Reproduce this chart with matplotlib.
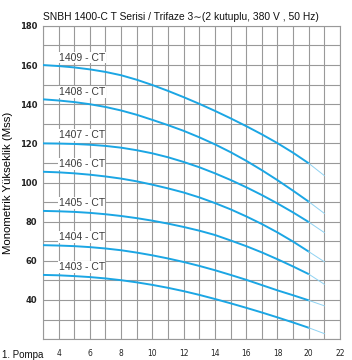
import matplotlib
matplotlib.use("Agg")
import matplotlib.pyplot as plt

# --- data ---
debi = [3, 4, 5, 6, 7, 8, 9, 10, 11, 12, 13, 14, 15, 16, 17, 18, 19, 20, 21]

h_1409 = [160, 159.5, 158.8, 157.8, 156.5, 154.8, 152.5, 149.8, 146.8, 143.6, 140.2, 136.6, 132.8, 128.8, 124.6, 120.1, 115.2, 109.8, 103.5]
h_1408 = [142.5, 141.9, 141.1, 140.0, 138.6, 136.8, 134.6, 132.0, 129.3, 126.4, 123.1, 119.5, 115.5, 111.1, 106.3, 101.2, 95.8, 90.2, 84.2]
h_1407 = [120, 119.9, 119.7, 119.3, 118.7, 117.8, 116.5, 114.9, 112.9, 110.5, 107.8, 104.7, 101.3, 97.6, 93.6, 89.3, 84.7, 79.8, 74.4]
h_1406 = [105.5, 105.2, 104.7, 104.0, 103.1, 102.0, 100.6, 98.9, 97.0, 94.9, 92.4, 89.5, 86.3, 82.7, 78.8, 74.5, 69.8, 64.7, 59.5]
h_1405 = [85.5, 85.3, 85.0, 84.5, 83.8, 82.9, 81.8, 80.5, 79.0, 77.3, 75.4, 73.2, 70.4, 67.5, 64.3, 60.8, 57.1, 53.2, 48.0]
h_1404 = [68, 67.8, 67.5, 67.0, 66.3, 65.4, 64.2, 62.8, 61.2, 59.4, 57.4, 55.2, 52.8, 50.3, 47.6, 44.9, 42.4, 39.8, 37.0]
h_1403 = [52.8, 52.6, 52.2, 51.7, 51.0, 50.1, 49.0, 47.7, 46.2, 44.5, 42.6, 40.5, 38.3, 36.0, 33.6, 31.1, 28.5, 25.8, 22.8]

pompalar = ["1409 - CT", "1408 - CT", "1407 - CT", "1406 - CT", "1405 - CT", "1404 - CT", "1403 - CT"]
egriler = [h_1409, h_1408, h_1407, h_1406, h_1405, h_1404, h_1403]

x_ticks = [4, 6, 8, 10, 12, 14, 16, 18, 20, 22]
y_ticks = [40, 60, 80, 100, 120, 140, 160, 180]

MAVI = "#1ba6e4"
ACIK_MAVI = "#8fd2f2"
GRI = "#999999"
YAZI = ["Liberation Sans", "DejaVu Sans"]

fig = plt.figure(figsize=(3.52, 3.6), dpi=100, facecolor="white")
ax = fig.add_axes([0.122, 0.058, 0.844, 0.870])

ax.set_xlim(3, 22)
ax.set_ylim(20, 180)

# grid every 1 on x, every 10 on y
for xv in range(3, 23):
    ax.axvline(xv, color=GRI, lw=0.8, zorder=1)
for yv in range(20, 181, 10):
    ax.axhline(yv, color=GRI, lw=0.8, zorder=1)

# curves: solid to 20, thin lighter tail 20 -> 21
son = debi.index(20)
for ad, h in zip(pompalar, egriler):
    ax.plot(debi[:son + 1], h[:son + 1], color=MAVI, lw=1.4, zorder=3, solid_capstyle="round")
    ax.plot(debi[son:], h[son:], color=ACIK_MAVI, lw=0.7, zorder=3)
    ax.text(4.0, h[1] + 1.8, ad, fontsize=7.5, family=YAZI, color="#3a3a3a",
            ha="left", va="bottom", zorder=4,
            bbox=dict(facecolor="white", edgecolor="none", pad=0.5))

ax.set_xticks(x_ticks)
ax.set_yticks(y_ticks)
ax.set_xticklabels([str(v) for v in x_ticks], fontsize=5.5, color="#222222")
ax.set_yticklabels([str(v) for v in y_ticks], fontsize=6, fontweight="bold", color="#222222")
ax.tick_params(axis="both", length=0)
ax.tick_params(axis="x", pad=7)
ax.tick_params(axis="y", pad=4)

for s in ax.spines.values():
    s.set_color(GRI)
    s.set_linewidth(0.8)

ax.set_ylabel("Monometrik Yükseklik (Mss)", fontsize=8.2, family=YAZI, labelpad=5)

fig.text(0.122, 0.953, "SNBH 1400-C T Serisi / Trifaze 3∼(2 kutuplu, 380 V , 50 Hz)",
         fontsize=7.4, family=YAZI, ha="left", va="center", color="#111111")
fig.text(0.006, 0.015, "1. Pompa", fontsize=7, family=YAZI, ha="left", va="center", color="#111111")

fig.savefig("out.png", dpi=100, facecolor="white")
